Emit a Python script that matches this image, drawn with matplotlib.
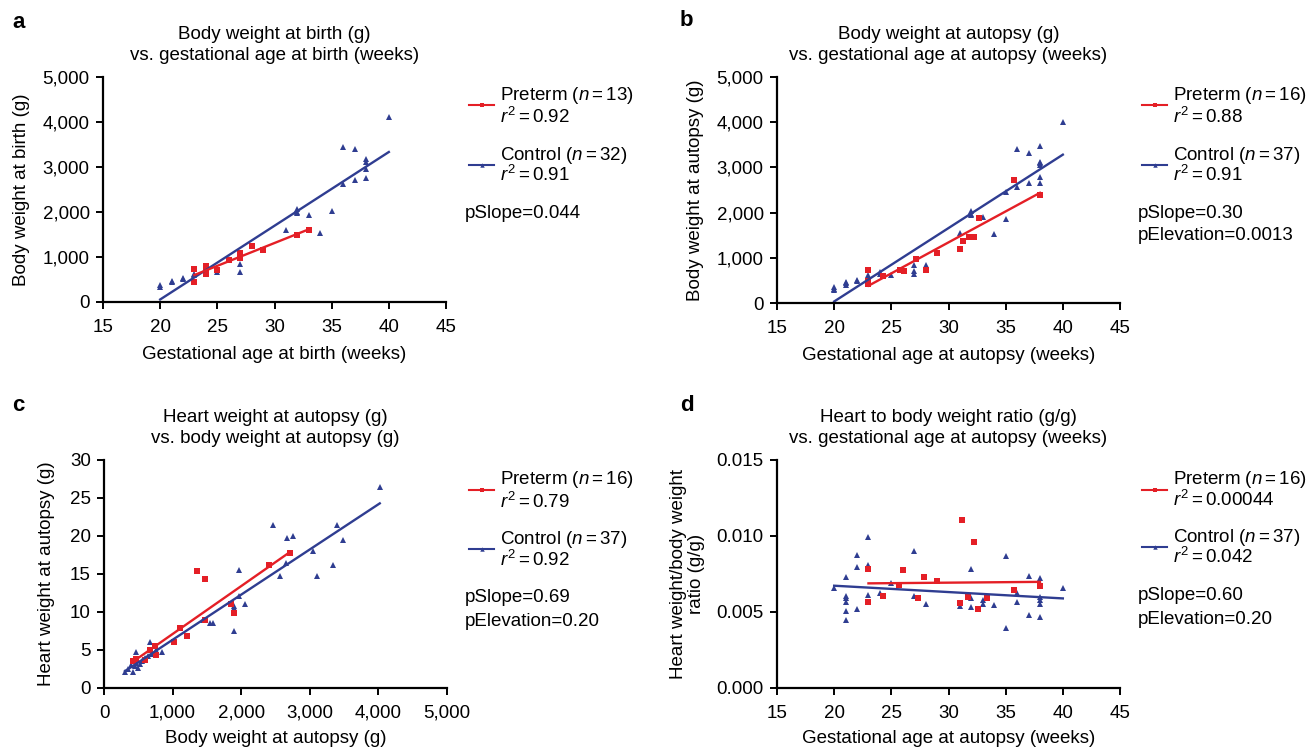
import numpy as np
import matplotlib
matplotlib.use('Agg')
import matplotlib.pyplot as plt
from matplotlib.lines import Line2D
from matplotlib.ticker import FuncFormatter, MultipleLocator

plt.rcParams['font.family'] = ['Liberation Sans', 'DejaVu Sans']
plt.rcParams['mathtext.fontset'] = 'custom'
plt.rcParams['mathtext.rm'] = 'Liberation Sans'
plt.rcParams['mathtext.it'] = 'Liberation Sans:italic'
plt.rcParams['mathtext.bf'] = 'Liberation Sans:bold'

RED = '#e41f26'
BLUE = '#2f3d91'
W, H = 1306, 749
FS = 13.5

# panel a: body weight at birth vs gestational age at birth
a_ga_pre = [23, 23, 24, 24, 24, 25, 26, 27, 27, 28, 29, 32, 33]
a_bw_pre = [740, 440, 790, 680, 630, 720, 925, 1090, 980, 1250, 1150, 1490, 1590]
a_ga_ctl = [20, 20, 21, 21, 22, 22, 23, 23, 24, 24, 25, 25, 26, 27, 27, 27, 31, 32, 32,
            32, 33, 34, 35, 36, 36, 37, 37, 38, 38, 38, 38, 40]
a_bw_ctl = [370, 330, 440, 470, 515, 540, 590, 620, 790, 700, 660, 700, 950, 660, 850, 1000,
            1610, 2060, 1985, 2000, 1925, 1540, 2020, 3450, 2620, 3400, 2710, 3180, 3100,
            2955, 2745, 4120]

# panel b: body weight at autopsy vs gestational age at autopsy
b_ga_pre = [23, 23, 23, 24.3, 25.8, 26.1, 27.2, 28, 29, 31, 31.3, 31.8, 32.2, 32.7, 35.7, 38]
b_bw_pre = [740, 485, 430, 590, 735, 700, 980, 735, 1100, 1200, 1370, 1470, 1470, 1880, 2720, 2400]
b_ga_ctl = [20, 20, 20, 21, 21, 21, 22, 22, 23, 23, 24, 24, 25, 26, 27, 27, 27, 28, 31, 32,
            32, 32, 33, 34, 35, 35, 36, 36, 37, 37, 38, 38, 38, 38, 38, 38, 40]
b_bw_ctl = [316, 280, 350, 450, 390, 470, 485, 500, 575, 610, 650, 680, 630, 720, 830, 650,
            700, 850, 1550, 2030, 1955, 1980, 1900, 1530, 1860, 2450, 3400, 2570, 3320, 2660,
            3480, 3130, 3060, 2780, 2650, 3100, 4010]

# panel c: heart weight vs body weight at autopsy
c_bw_pre = [1360, 1475, 1850, 1900, 1475, 1205, 1110, 1020, 760, 745, 600, 465, 2410, 2715, 430, 670]
c_hw_pre = [15.4, 14.3, 11.0, 9.9, 9.0, 6.8, 7.9, 6.0, 4.4, 5.5, 3.7, 3.8, 16.2, 17.7, 3.5, 5.0]
c_bw_ctl = [4020, 2460, 2665, 2760, 3400, 3480, 3045, 3335, 3110, 2570, 2655, 1965, 1965, 2060,
            1900, 1890, 1545, 1585, 840, 670, 465, 645, 430, 305, 500, 465, 350, 400, 450, 480,
            520, 560, 600, 700, 760, 1450, 1900]
c_hw_ctl = [26.5, 21.5, 19.7, 20.0, 21.5, 19.5, 18.0, 16.2, 14.8, 14.8, 16.4, 15.5, 12.1, 11.1,
            10.5, 7.5, 8.6, 8.6, 4.8, 6.0, 4.7, 4.2, 2.1, 2.1, 2.6, 3.3, 2.5, 3.0, 2.9, 3.8,
            3.2, 3.6, 4.0, 4.5, 5.0, 8.9, 10.8]

# panel d: heart to body weight ratio vs gestational age at autopsy
d_ga_pre = [23, 23, 24.3, 25.7, 26.0, 27.3, 27.9, 29, 31, 31.2, 31.7, 32.2, 32.6, 33.4, 35.7, 38]
d_ratio_pre = [0.00785, 0.00568, 0.00605, 0.00678, 0.00776, 0.0059, 0.00728, 0.00704, 0.00557,
               0.01105, 0.0060, 0.00963, 0.00518, 0.0059, 0.00645, 0.00671]
d_ga_ctl = [20, 21, 21, 21, 21, 21, 21, 22, 22, 22, 23, 23, 23, 24, 25, 27, 27, 28, 31, 32,
            32, 32, 33, 33, 34, 35, 35, 36, 36, 37, 37, 38, 38, 38, 38, 38, 40]
d_ratio_ctl = [0.0066, 0.00728, 0.00605, 0.0059, 0.00564, 0.00504, 0.00447, 0.00873, 0.00798,
               0.00518, 0.00996, 0.00809, 0.0061, 0.00623, 0.00689, 0.00904, 0.00605, 0.00553,
               0.0054, 0.00783, 0.00592, 0.00531, 0.00553, 0.0058, 0.00544, 0.00868, 0.00397,
               0.00627, 0.00568, 0.00737, 0.00482, 0.00721, 0.0060, 0.00579, 0.00553, 0.00469,
               0.00658]


def px(x, y):
    return x / W, 1 - y / H


def make_axes(fig, left, top, right, bottom):
    ax = fig.add_axes([left / W, 1 - bottom / H, (right - left) / W, (bottom - top) / H])
    for s in ['top', 'right']:
        ax.spines[s].set_visible(False)
    for s in ['left', 'bottom']:
        ax.spines[s].set_linewidth(1.6)
    ax.tick_params(direction='out', length=5, width=1.4, labelsize=FS, pad=4.5)
    ax.tick_params(axis='x', pad=7)
    return ax


def draw_panel(ax, x_pre, y_pre, x_ctl, y_ctl):
    ax.plot(x_ctl, y_ctl, '^', color=BLUE, ms=4.2, mew=0, clip_on=False)
    ax.plot(x_pre, y_pre, 's', color=RED, ms=4.0, mew=0, clip_on=False)
    for x, y, c in [(x_ctl, y_ctl, BLUE), (x_pre, y_pre, RED)]:
        fit = np.polyfit(x, y, 1)
        xs = np.array([min(x), max(x)])
        ax.plot(xs, np.polyval(fit, xs), color=c, lw=1.7)


def labels(ax, title, xlabel, ylabel, xl_y, yl_x):
    ax.set_title(title, fontsize=FS, pad=12, linespacing=1.3)
    ax.set_xlabel(xlabel, fontsize=FS)
    ax.set_ylabel(ylabel, fontsize=FS, linespacing=1.1)
    ax.xaxis.set_label_coords(0.5, xl_y)
    ax.yaxis.set_label_coords(yl_x, 0.5)


def key(fig, x0, y, color, marker):
    fig.add_artist(Line2D([x0 / W, (x0 + 25) / W], [1 - y / H] * 2, color=color, lw=1.5))
    fig.add_artist(Line2D([(x0 + 12.5) / W], [1 - y / H], color=color, marker=marker,
                          ms=3.2, mew=0))


def legend(fig, x, ys, n_pre, r_pre, n_ctl, r_ctl, stats):
    # ys: preterm line, preterm r2, control line, control r2, first stat line
    key(fig, x, ys[0] + 10, RED, 's')
    fig.text(*px(x + 31, ys[0]), 'Preterm ($n=%s$)' % n_pre, fontsize=FS, va='center')
    fig.text(*px(x + 31, ys[1]), '$r^2=%s$' % r_pre, fontsize=FS, va='center')
    key(fig, x, ys[2] + 9, BLUE, '^')
    fig.text(*px(x + 31, ys[2]), 'Control ($n=%s$)' % n_ctl, fontsize=FS, va='center')
    fig.text(*px(x + 31, ys[3]), '$r^2=%s$' % r_ctl, fontsize=FS, va='center')
    for i, s in enumerate(stats):
        fig.text(*px(x - 4, ys[4] + 23 * i), s, fontsize=FS, va='center')


thousands = FuncFormatter(lambda v, p: '{:,.0f}'.format(v))

fig = plt.figure(figsize=(13.06, 7.49), dpi=100)

# a
ax = make_axes(fig, 103, 77, 446, 302)
draw_panel(ax, a_ga_pre, a_bw_pre, a_ga_ctl, a_bw_ctl)
ax.set_xlim(15, 45)
ax.set_ylim(0, 5000)
ax.xaxis.set_major_locator(MultipleLocator(5))
ax.yaxis.set_major_locator(MultipleLocator(1000))
ax.yaxis.set_major_formatter(thousands)
labels(ax, 'Body weight at birth (g)\nvs. gestational age at birth (weeks)',
       'Gestational age at birth (weeks)', 'Body weight at birth (g)', -0.195, -0.213)
legend(fig, 469, [95, 117, 156, 175, 213], '13', '0.92', '32', '0.91', ['pSlope=0.044'])

# b
ax = make_axes(fig, 777, 77, 1120, 303)
draw_panel(ax, b_ga_pre, b_bw_pre, b_ga_ctl, b_bw_ctl)
ax.set_xlim(15, 45)
ax.set_ylim(0, 5000)
ax.xaxis.set_major_locator(MultipleLocator(5))
ax.yaxis.set_major_locator(MultipleLocator(1000))
ax.yaxis.set_major_formatter(thousands)
labels(ax, 'Body weight at autopsy (g)\nvs. gestational age at autopsy (weeks)',
       'Gestational age at autopsy (weeks)', 'Body weight at autopsy (g)', -0.195, -0.213)
legend(fig, 1142, [95, 117, 156, 175, 213], '16', '0.88', '37', '0.91',
       ['pSlope=0.30', 'pElevation=0.0013'])

# c
ax = make_axes(fig, 104, 460, 447, 688)
draw_panel(ax, c_bw_pre, c_hw_pre, c_bw_ctl, c_hw_ctl)
ax.set_xlim(0, 5000)
ax.set_ylim(0, 30)
ax.xaxis.set_major_locator(MultipleLocator(1000))
ax.xaxis.set_major_formatter(thousands)
ax.yaxis.set_major_locator(MultipleLocator(5))
labels(ax, 'Heart weight at autopsy (g)\nvs. body weight at autopsy (g)',
       'Body weight at autopsy (g)', 'Heart weight at autopsy (g)', -0.185, -0.143)
legend(fig, 469, [480, 502, 540, 560, 598], '16', '0.79', '37', '0.92',
       ['pSlope=0.69', 'pElevation=0.20'])

# d
ax = make_axes(fig, 777, 460, 1120, 688)
draw_panel(ax, d_ga_pre, d_ratio_pre, d_ga_ctl, d_ratio_ctl)
ax.set_xlim(15, 45)
ax.set_ylim(0, 0.015)
ax.xaxis.set_major_locator(MultipleLocator(5))
ax.yaxis.set_major_locator(MultipleLocator(0.005))
ax.yaxis.set_major_formatter(FuncFormatter(lambda v, p: '%.3f' % v))
labels(ax, 'Heart to body weight ratio (g/g)\nvs. gestational age at autopsy (weeks)',
       'Gestational age at autopsy (weeks)', 'Heart weight/body weight\nratio (g/g)', -0.185, -0.21)
legend(fig, 1142, [480, 500, 538, 557, 596], '16', '0.00044', '37', '0.042',
       ['pSlope=0.60', 'pElevation=0.20'])

for letter, (x, y) in zip('abcd', [(12, 23), (680, 20), (12, 406), (680, 406)]):
    fig.text(*px(x, y), letter, fontsize=16, fontweight='bold', va='center')

fig.savefig('out.png', dpi=100)
